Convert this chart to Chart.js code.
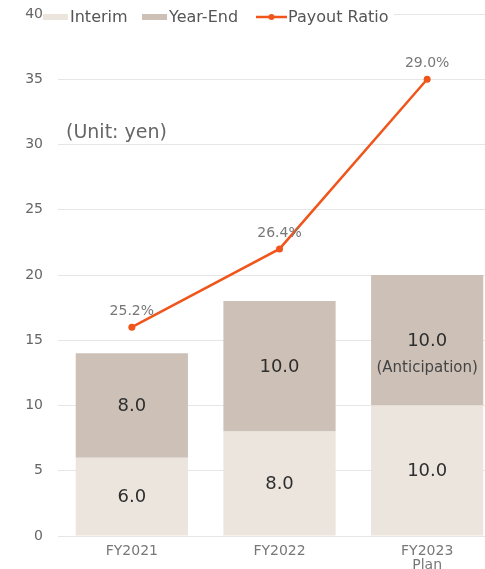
<!DOCTYPE html>
<html>
<head>
<meta charset="utf-8">
<script src="https://cdn.jsdelivr.net/npm/chart.js@4/dist/chart.umd.min.js"></script>
<style>
  html, body { margin: 0; padding: 0; background: #fff; overflow: hidden; }
  #wrap { position: relative; width: 505px; height: 569px; }
</style>
</head>
<body>
<div id="wrap"><canvas id="dividendChart"></canvas></div>
<script>
var years = [['FY2021'], ['FY2022'], ['FY2023', 'Plan']];
var interim = [6.0, 8.0, 10.0];
var yearEnd = [8.0, 10.0, 10.0];
var payoutRatio = [25.2, 26.4, 29.0];
var yearEndNotes = ['', '', '(Anticipation)'];

var FONT = "'DejaVu Sans', sans-serif";
var C_INTERIM = '#ebe5dd';
var C_YEAREND = '#cdc1b7';
var C_LINE = '#f0561c';

// numbers inside the bars and percentages over the line points
var labelPlugin = {
  id: 'valueLabels',
  afterDatasetsDraw: function(chart) {
    var ctx = chart.ctx;
    ctx.save();
    ctx.textAlign = 'center';
    ctx.textBaseline = 'middle';
    [0, 1].forEach(function(di) {
      var meta = chart.getDatasetMeta(di);
      var vals = chart.data.datasets[di].data;
      meta.data.forEach(function(bar, i) {
        var cy = (bar.y + bar.base) / 2;
        ctx.fillStyle = '#2e2e2e';
        ctx.font = '18px ' + FONT;
        ctx.fillText(vals[i].toFixed(1), bar.x, cy + 1);
        if (di === 1 && yearEndNotes[i]) {
          ctx.fillStyle = '#444';
          ctx.font = '15px ' + FONT;
          ctx.fillText(yearEndNotes[i], bar.x, cy + 28);
        }
      });
    });
    var lm = chart.getDatasetMeta(2);
    ctx.fillStyle = '#777';
    ctx.font = '14px ' + FONT;
    lm.data.forEach(function(pt, i) {
      ctx.fillText(payoutRatio[i].toFixed(1) + '%', pt.x, pt.y - 16);
    });
    ctx.restore();
  },
  afterDraw: function(chart) {
    var ctx = chart.ctx;
    var y = 17;
    ctx.save();
    // legend sits on the top grid line
    ctx.fillStyle = '#fff';
    ctx.fillRect(44, 6, 350, 22);
    ctx.fillStyle = C_INTERIM;
    ctx.fillRect(43, y - 3, 25, 6);
    ctx.fillStyle = C_YEAREND;
    ctx.fillRect(142, y - 3, 25, 6);
    ctx.strokeStyle = C_LINE;
    ctx.lineWidth = 2.5;
    ctx.beginPath();
    ctx.moveTo(256, y);
    ctx.lineTo(287, y);
    ctx.stroke();
    ctx.fillStyle = C_LINE;
    ctx.beginPath();
    ctx.arc(271.5, y, 3, 0, Math.PI * 2);
    ctx.fill();
    ctx.fillStyle = '#555';
    ctx.font = '16px ' + FONT;
    ctx.textBaseline = 'middle';
    ctx.textAlign = 'left';
    ctx.fillText('Interim', 70, y + 1);
    ctx.fillText('Year-End', 169, y + 1);
    ctx.fillText('Payout Ratio', 288, y + 1);
    // unit note
    ctx.fillStyle = '#666';
    ctx.font = '19px ' + FONT;
    ctx.fillText('(Unit: yen)', 66, 133);
    ctx.restore();
  }
};

new Chart(document.getElementById('dividendChart').getContext('2d'), {
  type: 'bar',
  data: {
    labels: years,
    datasets: [{
      label: 'Interim',
      data: interim,
      backgroundColor: C_INTERIM,
      stack: 's',
      order: 2
    }, {
      label: 'Year-End',
      data: yearEnd,
      backgroundColor: C_YEAREND,
      stack: 's',
      order: 2
    }, {
      type: 'line',
      label: 'Payout Ratio',
      data: payoutRatio,
      yAxisID: 'y1',
      borderColor: C_LINE,
      backgroundColor: C_LINE,
      borderWidth: 2.5,
      pointRadius: 3.5,
      pointBorderWidth: 0,
      tension: 0,
      order: 1
    }]
  },
  options: {
    responsive: true,
    maintainAspectRatio: false,
    animation: false,
    layout: { padding: 0 },
    datasets: { bar: { barPercentage: 0.76, categoryPercentage: 1 } },
    plugins: {
      legend: { display: false },
      tooltip: { enabled: false }
    },
    scales: {
      x: {
        stacked: true,
        grid: { display: false },
        border: { display: false },
        ticks: { color: '#777', font: { family: FONT, size: 14, lineHeight: 1.0 }, padding: 0, maxRotation: 0 },
        afterFit: function(scale) { scale.height = 33; }
      },
      y: {
        stacked: true,
        min: 0,
        max: 40,
        ticks: { stepSize: 5, color: '#666', font: { family: FONT, size: 14 }, padding: 15 },
        grid: { color: '#e6e6e6', drawTicks: false },
        border: { display: false },
        afterFit: function(scale) {
          scale.width = 58;
          scale.paddingTop = 14;
          scale.paddingBottom = 0;
        }
      },
      y1: {
        display: false,
        min: 22,
        max: 30
      }
    }
  },
  plugins: [labelPlugin]
});
</script>
</body>
</html>
